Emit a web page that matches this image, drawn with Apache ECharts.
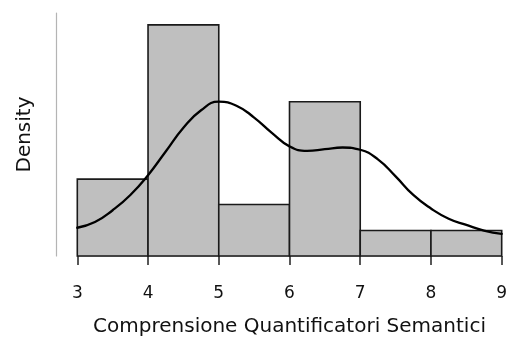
<!DOCTYPE html>
<html>
<head>
<meta charset="utf-8">
<script src="https://cdn.jsdelivr.net/npm/echarts@6/dist/echarts.min.js"></script>
<style>
  html, body { margin: 0; padding: 0; background: #fff; }
  #chart { width: 508px; height: 338px; }
</style>
</head>
<body>
<div id="chart"></div>
<script>
// Histogram bins (left/right edges) and their densities
const binStart = [3, 4, 5, 6, 7, 8];
const binEnd = [4, 5, 6, 7, 8, 9];
const binDensity = [0.136, 0.409, 0.091, 0.273, 0.045, 0.045];

// Kernel density estimate sampled along the x range
const curveX = [3.0, 3.25, 3.5, 3.75, 4.0, 4.25, 4.5, 4.75, 5.0, 5.25, 5.5, 5.75,
                6.0, 6.25, 6.5, 6.75, 7.0, 7.25, 7.5, 7.75, 8.0, 8.25, 8.5, 8.75, 9.0];
const curveY = [0.050, 0.060, 0.081, 0.108, 0.143, 0.185, 0.227, 0.258, 0.273, 0.266, 0.245, 0.218,
                0.194, 0.186, 0.189, 0.192, 0.188, 0.171, 0.141, 0.108, 0.084, 0.066, 0.055, 0.045, 0.039];

const xTicks = [3, 4, 5, 6, 7, 8, 9];

const font = 'DejaVu Sans';
const chart = echarts.init(document.getElementById('chart'), null, { renderer: 'canvas' });

const bars = binStart.map((s, i) => [s, binEnd[i], binDensity[i]]);
const curve = curveX.map((x, i) => [x, curveY[i]]);

chart.setOption({
  animation: false,
  grid: { left: 77.3, right: 6.3, top: 13, bottom: 82, containLabel: false, outerBoundsMode: 'none' },
  xAxis: {
    type: 'value',
    min: xTicks[0],
    max: xTicks[xTicks.length - 1],
    interval: 1,
    offset: 10.7,
    name: 'Comprensione Quantificatori Semantici',
    nameLocation: 'middle',
    nameGap: 50,
    nameTextStyle: { fontFamily: font, fontSize: 20, color: '#111' },
    axisLine: { show: true, lineStyle: { color: '#c8c8c8', width: 1.2 } },
    axisTick: { show: true, inside: false, length: 9, lineStyle: { color: '#222', width: 1.5 } },
    axisLabel: { fontFamily: font, fontSize: 17, color: '#111', margin: 18 },
    splitLine: { show: false }
  },
  yAxis: {
    type: 'value',
    min: 0,
    max: 0.43,
    offset: 20.8,
    name: 'Density',
    nameLocation: 'middle',
    nameGap: 22,
    nameTextStyle: { fontFamily: font, fontSize: 20, color: '#111' },
    axisLine: { show: true, lineStyle: { color: '#b4b4b4', width: 1.2 } },
    axisTick: { show: false },
    axisLabel: { show: false },
    splitLine: { show: false }
  },
  series: [
    {
      type: 'custom',
      data: bars,
      renderItem: function (params, api) {
        const p0 = api.coord([api.value(0), api.value(2)]);
        const p1 = api.coord([api.value(1), 0]);
        return {
          type: 'rect',
          shape: { x: p0[0], y: p0[1], width: p1[0] - p0[0], height: p1[1] - p0[1] },
          style: { fill: '#bfbfbf', stroke: '#1a1a1a', lineWidth: 1.6 }
        };
      },
      z: 1
    },
    {
      type: 'line',
      data: curve,
      smooth: 0.5,
      showSymbol: false,
      lineStyle: { color: '#000', width: 2.3, cap: 'round', join: 'round' },
      z: 3
    }
  ]
});
</script>
</body>
</html>
